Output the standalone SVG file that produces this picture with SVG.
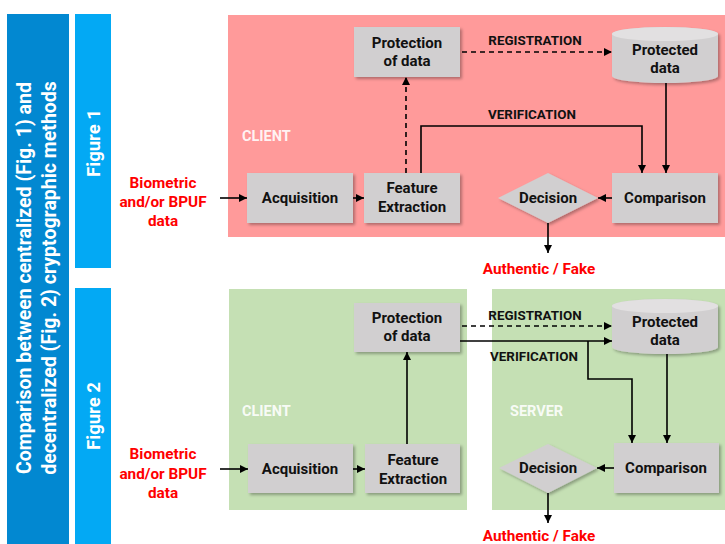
<svg xmlns="http://www.w3.org/2000/svg" width="725" height="544" viewBox="0 0 725 544">
<defs>
<filter id="sh" x="-10%" y="-10%" width="130%" height="140%">
<feDropShadow dx="2" dy="2" stdDeviation="1.5" flood-color="#000" flood-opacity="0.3"/>
</filter>
<marker id="ah" markerWidth="8" markerHeight="8" refX="8" refY="4" orient="auto" markerUnits="userSpaceOnUse">
<path d="M0,0 L8,4 L0,8 Z" fill="#000"/>
</marker>
</defs>
<style>
text{font-family:Roboto,"Liberation Sans",Arial,sans-serif;font-weight:bold}
.box{fill:#d1cfd0;filter:url(#sh)}
.bt{font-size:15px;fill:#111;text-anchor:middle}
.lbl{font-size:13.4px;fill:#111;text-anchor:middle}
.zone{font-size:14.5px;fill:#fff;fill-opacity:0.9}
.red{font-size:15.3px;fill:#f00;text-anchor:middle}
.side{fill:#fff;text-anchor:middle}
.c{fill:none;stroke:#000;stroke-width:1.6}
.d{stroke-dasharray:5,4}
.a{marker-end:url(#ah)}
</style>
<rect width="725" height="544" fill="#fff"/>
<g id="title-bar">
<rect x="7" y="14" width="62" height="530" fill="#0288d1"/>
<text class="side" font-size="19.5" transform="translate(31,278) rotate(-90)">Comparison between centralized (Fig. 1) and</text>
<text class="side" font-size="19.5" transform="translate(56,278) rotate(-90)">decentralized (Fig. 2) cryptographic methods</text>
</g>
<g id="fig1-bar">
<rect x="75" y="14" width="36" height="254" fill="#03a9f4"/>
<text class="side" font-size="18.5" transform="translate(100,143) rotate(-90)">Figure 1</text>
</g>
<g id="fig2-bar">
<rect x="75" y="288" width="36" height="256" fill="#03a9f4"/>
<text class="side" font-size="18.5" transform="translate(100,416) rotate(-90)">Figure 2</text>
</g>
<g id="panel1-client">
<rect x="228" y="15" width="497" height="222" fill="#ff9a9a"/>
<text class="zone" x="242" y="141">CLIENT</text>
</g>
<g id="panel2-client">
<rect x="229" y="289" width="238" height="221" fill="#c5e0b4"/>
<text class="zone" x="242" y="416">CLIENT</text>
</g>
<g id="panel2-server">
<rect x="492" y="289" width="233" height="221" fill="#c5e0b4"/>
<text class="zone" x="510" y="416">SERVER</text>
</g>
<g id="connectors">
<path class="c a" d="M220,198 H247"/>
<path class="c a" d="M353,198 H364"/>
<path class="c d a" d="M406,173 V77"/>
<path class="c d a" d="M462,52 H612"/>
<path class="c a" d="M421,173 V126 H642 V173"/>
<path class="c a" d="M666,83 V173"/>
<path class="c a" d="M612,198 H598"/>
<path class="c a" d="M548,223 V253"/>
<path class="c a" d="M220,469 H248"/>
<path class="c a" d="M353,469 H365"/>
<path class="c a" d="M407,444 V352"/>
<path class="c d a" d="M462,326 H612"/>
<path class="c a" d="M460,341 H612"/>
<path class="c a" d="M588,341 V379 H632 V443"/>
<path class="c a" d="M667,354 V443"/>
<path class="c a" d="M614,468 H597"/>
<path class="c a" d="M548,493 V523"/>
<text class="lbl" x="535" y="45">REGISTRATION</text>
<text class="lbl" x="532" y="119">VERIFICATION</text>
<text class="lbl" x="535" y="320">REGISTRATION</text>
<text class="lbl" x="534" y="361">VERIFICATION</text>
</g>
<g id="input1">
<text class="red" x="163" y="188">Biometric</text>
<text class="red" x="163" y="207">and/or BPUF</text>
<text class="red" x="163" y="226">data</text>
</g>
<g id="acq1">
<rect class="box" x="247" y="173" width="106" height="50"/>
<text class="bt" x="300" y="203">Acquisition</text>
</g>
<g id="feat1">
<rect class="box" x="364" y="173" width="96" height="50"/>
<text class="bt" x="412" y="193">Feature</text>
<text class="bt" x="412" y="212">Extraction</text>
</g>
<g id="prot1">
<rect class="box" x="354" y="27" width="106" height="50"/>
<text class="bt" x="407" y="48">Protection</text>
<text class="bt" x="407" y="66">of data</text>
</g>
<g id="db1">
<path class="box" d="M612,34 A53,7 0 0 1 718,34 V76 A53,7 0 0 1 612,76 Z"/>
<ellipse cx="665" cy="34" rx="53" ry="7" fill="#e2e0e1"/>
<text class="bt" x="665" y="55">Protected</text>
<text class="bt" x="665" y="73">data</text>
</g>
<g id="cmp1">
<rect class="box" x="612" y="173" width="106" height="50"/>
<text class="bt" x="665" y="203">Comparison</text>
</g>
<g id="dec1">
<path class="box" d="M498,198 L548,173 L598,198 L548,223 Z"/>
<text class="bt" x="548" y="203">Decision</text>
</g>
<g id="out1">
<text class="red" x="539" y="274">Authentic / Fake</text>
</g>
<g id="input2">
<text class="red" x="163" y="459">Biometric</text>
<text class="red" x="163" y="479">and/or BPUF</text>
<text class="red" x="163" y="498">data</text>
</g>
<g id="acq2">
<rect class="box" x="248" y="444" width="105" height="49"/>
<text class="bt" x="300" y="474">Acquisition</text>
</g>
<g id="feat2">
<rect class="box" x="365" y="444" width="95" height="49"/>
<text class="bt" x="413" y="465">Feature</text>
<text class="bt" x="413" y="484">Extraction</text>
</g>
<g id="prot2">
<rect class="box" x="354" y="303" width="106" height="49"/>
<text class="bt" x="407" y="323">Protection</text>
<text class="bt" x="407" y="341">of data</text>
</g>
<g id="db2">
<path class="box" d="M612,306 A53,7 0 0 1 718,306 V347 A53,7 0 0 1 612,347 Z"/>
<ellipse cx="665" cy="306" rx="53" ry="7" fill="#e2e0e1"/>
<text class="bt" x="665" y="327">Protected</text>
<text class="bt" x="665" y="345">data</text>
</g>
<g id="cmp2">
<rect class="box" x="614" y="443" width="105" height="50"/>
<text class="bt" x="666" y="473">Comparison</text>
</g>
<g id="dec2">
<path class="box" d="M499,468 L548,444 L597,468 L548,493 Z"/>
<text class="bt" x="548" y="473">Decision</text>
</g>
<g id="out2">
<text class="red" x="539" y="541">Authentic / Fake</text>
</g>
</svg>
